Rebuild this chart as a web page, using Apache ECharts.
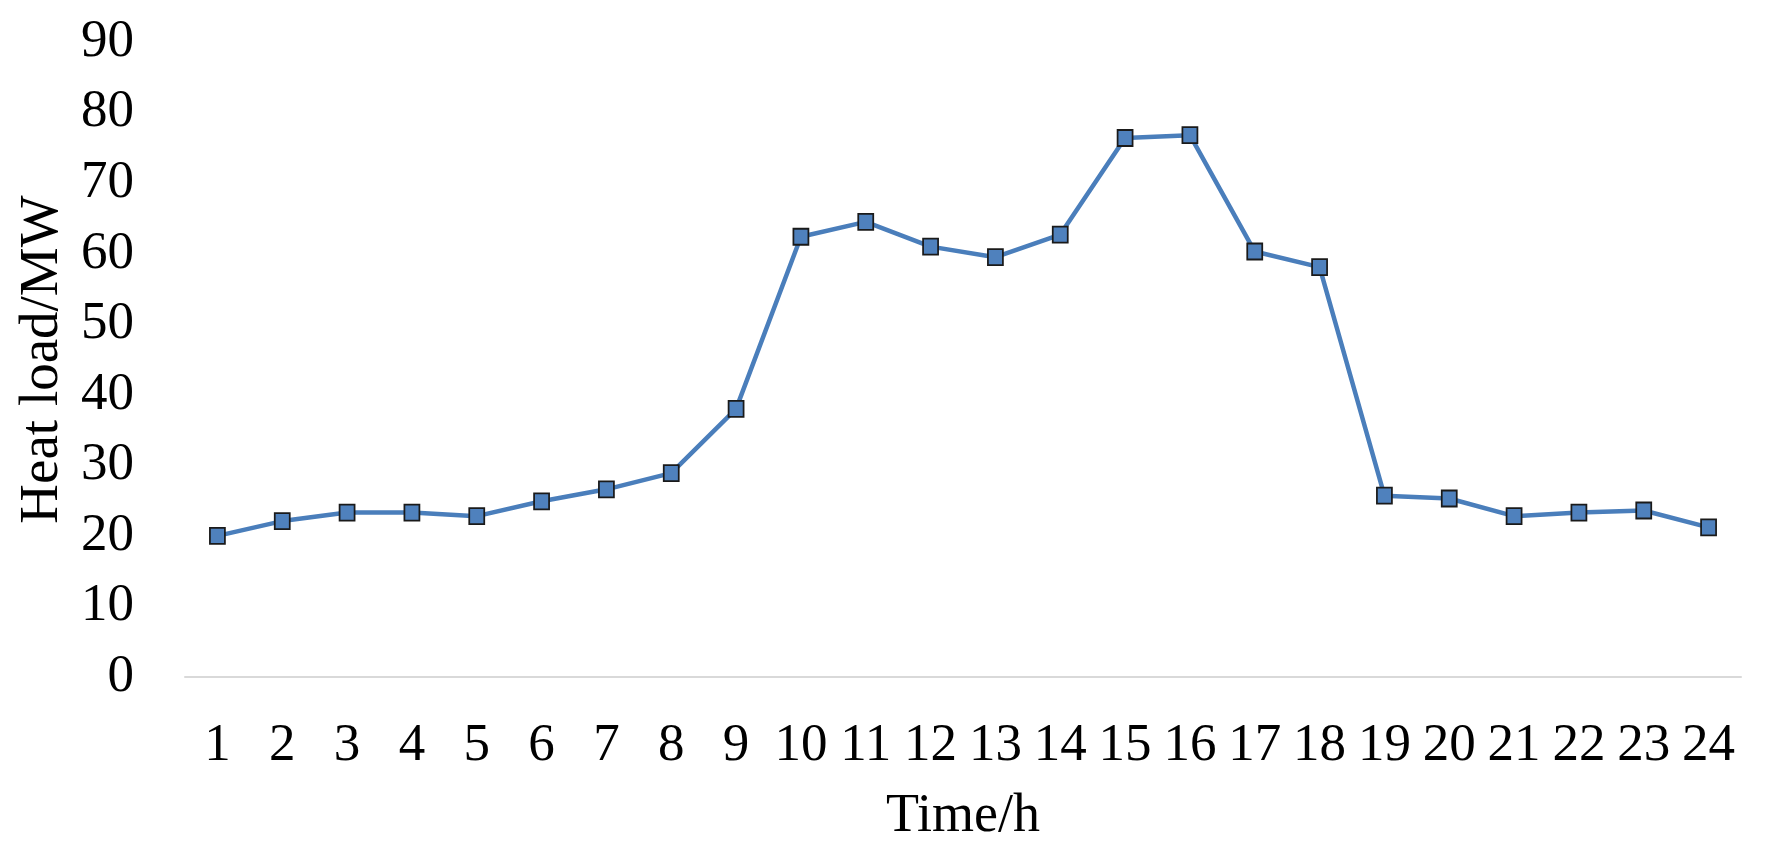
<!DOCTYPE html>
<html>
<head>
<meta charset="utf-8">
<script src="https://cdn.jsdelivr.net/npm/echarts@6/dist/echarts.min.js"></script>
<style>
html,body{margin:0;padding:0;background:#fff;}
#chart{width:1776px;height:864px;}
</style>
</head>
<body>
<div id="chart"></div>
<script>
const hours = ['1','2','3','4','5','6','7','8','9','10','11','12','13','14','15','16','17','18','19','20','21','22','23','24'];
const heatLoad = [20.0, 22.1, 23.3, 23.3, 22.8, 24.9, 26.6, 28.9, 38.0, 62.4, 64.5, 61.0, 59.5, 62.7, 76.4, 76.8, 60.3, 58.1, 25.7, 25.3, 22.8, 23.3, 23.6, 21.2];
const xName = 'Time/h';
const yName = 'Heat load/MW';

const font = '"Liberation Serif", "Times New Roman", serif';
const chart = echarts.init(document.getElementById('chart'));
chart.setOption({
  animation: false,
  backgroundColor: '#ffffff',
  grid: {left: 185, right: 35, top: 42, bottom: 187},
  xAxis: {
    type: 'category',
    data: hours,
    boundaryGap: true,
    name: xName,
    nameLocation: 'middle',
    nameGap: 113,
    nameTextStyle: {fontFamily: font, fontSize: 54, color: '#000'},
    axisLine: {show: true, lineStyle: {color: '#d9d9d9', width: 2}},
    axisTick: {show: false},
    axisLabel: {fontFamily: font, fontSize: 53, color: '#000', margin: 43, interval: 0},
    splitLine: {show: false}
  },
  yAxis: {
    type: 'value',
    min: 0, max: 90, interval: 10,
    name: yName,
    nameLocation: 'middle',
    nameRotate: 90,
    nameGap: 108,
    nameTextStyle: {fontFamily: font, fontSize: 55, color: '#000'},
    axisLine: {show: false},
    axisTick: {show: false},
    axisLabel: {fontFamily: font, fontSize: 53, color: '#000', margin: 51},
    splitLine: {show: false}
  },
  series: [{
    type: 'line',
    data: heatLoad,
    symbol: 'rect',
    symbolSize: [15, 16],
    lineStyle: {color: '#4a7ebb', width: 4.5},
    itemStyle: {color: '#4f81bd', borderColor: '#1a1a1a', borderWidth: 1.8}
  }]
});
</script>
</body>
</html>
